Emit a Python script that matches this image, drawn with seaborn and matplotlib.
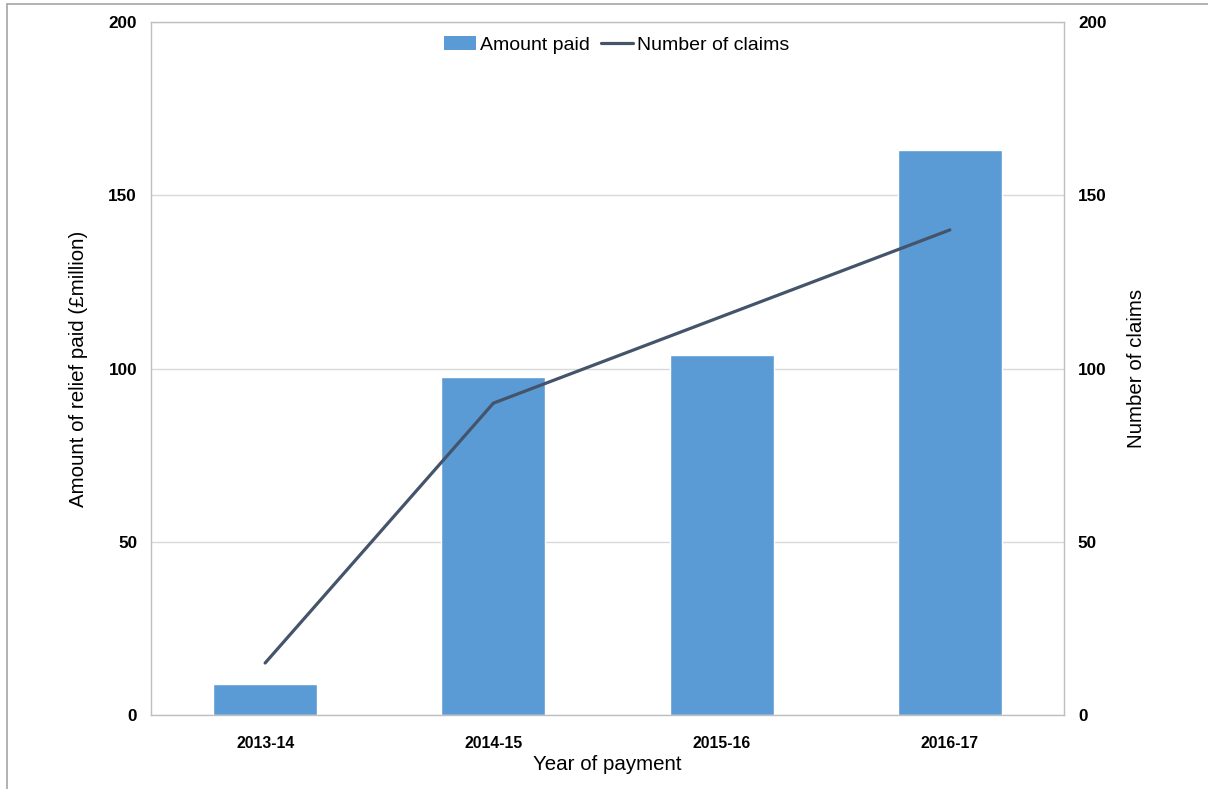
import pandas as pd
import matplotlib
matplotlib.use("Agg")
import matplotlib.pyplot as plt
import seaborn as sns
from matplotlib.lines import Line2D
from matplotlib.patches import Patch

# data
years = ["2013-14", "2014-15", "2015-16", "2016-17"]
amount_paid = [9, 97.5, 104, 163]
num_claims = [15, 90, 115, 140]

BAR_COLOR = "#5B9BD5"
LINE_COLOR = "#44546A"


def main():
    sns.set_style("white")
    plt.rcParams['font.family'] = ['Liberation Sans', 'DejaVu Sans']
    plt.rcParams['text.color'] = "black"
    plt.rcParams['axes.labelcolor'] = "black"
    plt.rcParams['xtick.color'] = "black"
    plt.rcParams['ytick.color'] = "black"

    df = pd.DataFrame({"year": years, "amount": amount_paid, "claims": num_claims})

    fig = plt.figure(figsize=(12.08, 7.89), dpi=100)
    ax = fig.add_axes([0.125, 0.0938, 0.7558, 0.8783])

    sns.barplot(data=df, x="year", y="amount", color=BAR_COLOR, width=0.455,
                saturation=1, ax=ax, zorder=2)
    ax.set_xlim(-0.5, 3.5)
    ax.set_ylim(0, 200)
    ax.set_yticks([0, 50, 100, 150, 200])
    ax.yaxis.grid(True, color="#D9D9D9", linewidth=1)
    ax.set_axisbelow(True)
    for s in ax.spines.values():
        s.set_color("#BFBFBF")
        s.set_linewidth(1)
    ax.tick_params(length=0)
    ax.tick_params(axis="y", pad=10)
    ax.tick_params(axis="x", pad=15)
    for lbl in ax.get_xticklabels():
        lbl.set_fontweight("bold")
        lbl.set_fontsize(11.3)
    for lbl in ax.get_yticklabels():
        lbl.set_fontweight("bold")
        lbl.set_fontsize(12.3)
    ax.set_xlabel("Year of payment", fontsize=14.8, labelpad=3)
    ax.set_ylabel("Amount of relief paid (£million)", fontsize=14.8, labelpad=15)

    ax2 = ax.twinx()
    sns.lineplot(data=df, x="year", y="claims", color=LINE_COLOR, linewidth=2.3,
                 ax=ax2, sort=False)
    ax2.set_ylim(0, 200)
    ax2.set_yticks([0, 50, 100, 150, 200])
    ax2.tick_params(length=0, pad=10)
    for lbl in ax2.get_yticklabels():
        lbl.set_fontweight("bold")
        lbl.set_fontsize(12.3)
    ax2.set_ylabel("Number of claims", fontsize=14.8, labelpad=15)
    for s in ax2.spines.values():
        s.set_visible(False)

    handles = [Patch(facecolor=BAR_COLOR, edgecolor="none"),
               Line2D([0], [0], color=LINE_COLOR, linewidth=2.3)]
    ax.legend(handles, ["Amount paid", "Number of claims"], loc="upper center",
              bbox_to_anchor=(0.51, 1.005), ncol=2, frameon=False, fontsize=14,
              handlelength=1.65, handletextpad=0.2, columnspacing=0.6)

    # outer frame lines (top and left) of the original image
    fig.add_artist(Line2D([7 / 1208, 1], [1 - 4 / 789, 1 - 4 / 789],
                          color="#A6A6A6", linewidth=1.2, transform=fig.transFigure))
    fig.add_artist(Line2D([7 / 1208, 7 / 1208], [0, 1 - 4 / 789],
                          color="#A6A6A6", linewidth=1.2, transform=fig.transFigure))

    fig.savefig("out.png", dpi=100)


if __name__ == "__main__":
    main()
